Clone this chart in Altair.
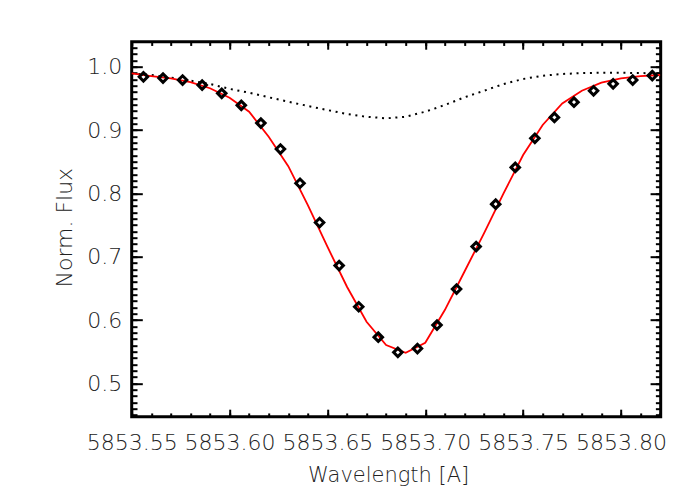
import altair as alt
import pandas as pd

# ---------------- data ----------------
wave_obs = [5853.556, 5853.566, 5853.576, 5853.586, 5853.596, 5853.606, 5853.616,
            5853.626, 5853.636, 5853.646, 5853.656, 5853.666, 5853.676, 5853.686,
            5853.696, 5853.706, 5853.716, 5853.726, 5853.736, 5853.746, 5853.756,
            5853.766, 5853.776, 5853.786, 5853.796, 5853.806, 5853.816]
flux_obs = [0.984, 0.982, 0.979, 0.971, 0.958, 0.939, 0.911, 0.870, 0.816,
            0.754, 0.686, 0.621, 0.573, 0.549, 0.555, 0.592, 0.649, 0.716,
            0.783, 0.841, 0.887, 0.920, 0.944, 0.962, 0.973, 0.979, 0.986]

wave_model = [5853.55, 5853.56, 5853.57, 5853.58, 5853.59, 5853.60, 5853.61,
              5853.62, 5853.63, 5853.64, 5853.65, 5853.66, 5853.67, 5853.68,
              5853.69, 5853.70, 5853.71, 5853.72, 5853.73, 5853.74, 5853.75,
              5853.76, 5853.77, 5853.78, 5853.79, 5853.80, 5853.81, 5853.82]
flux_fit = [0.9895, 0.9853, 0.9817, 0.9758, 0.966, 0.951, 0.929, 0.8895, 0.843,
            0.7816, 0.7158, 0.6526, 0.5973, 0.5605, 0.5484, 0.5642, 0.6158,
            0.6763, 0.7369, 0.800, 0.8606, 0.908, 0.942, 0.962, 0.9748, 0.9817,
            0.9853, 0.9869]
flux_blend = [0.9895, 0.987, 0.983, 0.978, 0.9727, 0.965, 0.959, 0.9517, 0.9448,
              0.938, 0.9316, 0.9253, 0.921, 0.9185, 0.921, 0.929, 0.9395, 0.9516,
              0.962, 0.9727, 0.9806, 0.9858, 0.9885, 0.990, 0.9905, 0.9905, 0.990,
              0.9895]

x_major = [5853.55, 5853.60, 5853.65, 5853.70, 5853.75, 5853.80]
x_minor = [round(5853.55 + 0.01 * i, 2) for i in range(28)]
y_major = [0.5, 0.6, 0.7, 0.8, 0.9, 1.0]
y_minor = [round(0.45 + 0.01 * i, 2) for i in range(60)]

X_DOMAIN = [5853.55, 5853.8203]
Y_DOMAIN = [0.4474, 1.0395]

W, H = 529, 375
XT, YT = 7.5, 10.6
FONT = "DejaVu Sans"
TXT = "#222222"
FS = 22
FW = 200

df_obs = pd.DataFrame({"wave": wave_obs, "flux": flux_obs})
df_mod = pd.DataFrame({"wave": wave_model, "fit": flux_fit, "blend": flux_blend})

xs = alt.Scale(domain=X_DOMAIN, nice=False, zero=False)
ys = alt.Scale(domain=Y_DOMAIN, nice=False, zero=False)


def tick_axis(orient, values, size):
    return alt.Axis(orient=orient, values=values, tickSize=size, offset=-size,
                    labels=False, domain=False, grid=False, title=None,
                    tickColor="black", tickWidth=2)


label_x = alt.Axis(orient="bottom", values=x_major, format=".2f", ticks=False,
                   domain=False, grid=False, labelFont=FONT, labelFontSize=FS,
                   labelFontWeight=FW, labelColor=TXT, labelPadding=16,
                   labelFlush=False, labelOverlap=False, title="Wavelength [A]",
                   titleFont=FONT, titleFontSize=21, titleFontWeight=FW,
                   titleColor=TXT, titleX=W / 2 - 8, titleY=65,
                   titleBaseline="alphabetic")
label_y = alt.Axis(orient="left", values=y_major, format=".1f", ticks=False,
                   domain=False, grid=False, labelFont=FONT, labelFontSize=FS,
                   labelFontWeight=FW, labelColor=TXT, labelPadding=10,
                   labelOverlap=False, title="Norm. Flux", titleFont=FONT,
                   titleFontSize=FS, titleFontWeight=FW, titleColor=TXT,
                   titleX=-60, titleY=H / 2 - 2, titleAngle=270,
                   titleBaseline="alphabetic")

dotted = alt.Chart(df_mod).mark_line(color="black", strokeDash=[2, 4.7], strokeWidth=2).encode(
    x=alt.X("wave:Q", scale=xs, axis=label_x),
    y=alt.Y("blend:Q", scale=ys, axis=label_y),
)
fit = alt.Chart(df_mod).mark_line(color="#ff0000", strokeWidth=1.8).encode(
    x=alt.X("wave:Q", scale=xs, axis=tick_axis("bottom", x_major, XT)),
    y=alt.Y("fit:Q", scale=ys, axis=tick_axis("left", y_major, YT)),
)
top_major = alt.Chart(df_obs).mark_point(opacity=0).encode(
    x=alt.X("wave:Q", scale=xs, axis=tick_axis("top", x_major, XT)),
    y=alt.Y("flux:Q", scale=ys, axis=tick_axis("right", y_major, YT)),
)
top_minor = alt.Chart(df_obs).mark_point(opacity=0).encode(
    x=alt.X("wave:Q", scale=xs, axis=tick_axis("top", x_minor, XT / 2)),
    y=alt.Y("flux:Q", scale=ys, axis=tick_axis("right", y_minor, YT / 2)),
)
obs = alt.Chart(df_obs).mark_point(shape="diamond", filled=False, color="black",
                                   strokeWidth=3, size=72, opacity=1).encode(
    x=alt.X("wave:Q", scale=xs, axis=tick_axis("bottom", x_minor, XT / 2)),
    y=alt.Y("flux:Q", scale=ys, axis=tick_axis("left", y_minor, YT / 2)),
)

chart = alt.layer(dotted, fit, top_major, top_minor, obs).resolve_axis(
    x="independent", y="independent"
).properties(
    width=W, height=H,
    padding={"left": 123.7, "top": 33.7, "right": 30, "bottom": 70},
    autosize=alt.AutoSizeParams(type="none"),
).configure_view(stroke="black", strokeWidth=3)

chart.save("out.html", embed_options={"renderer": "svg", "actions": False})
